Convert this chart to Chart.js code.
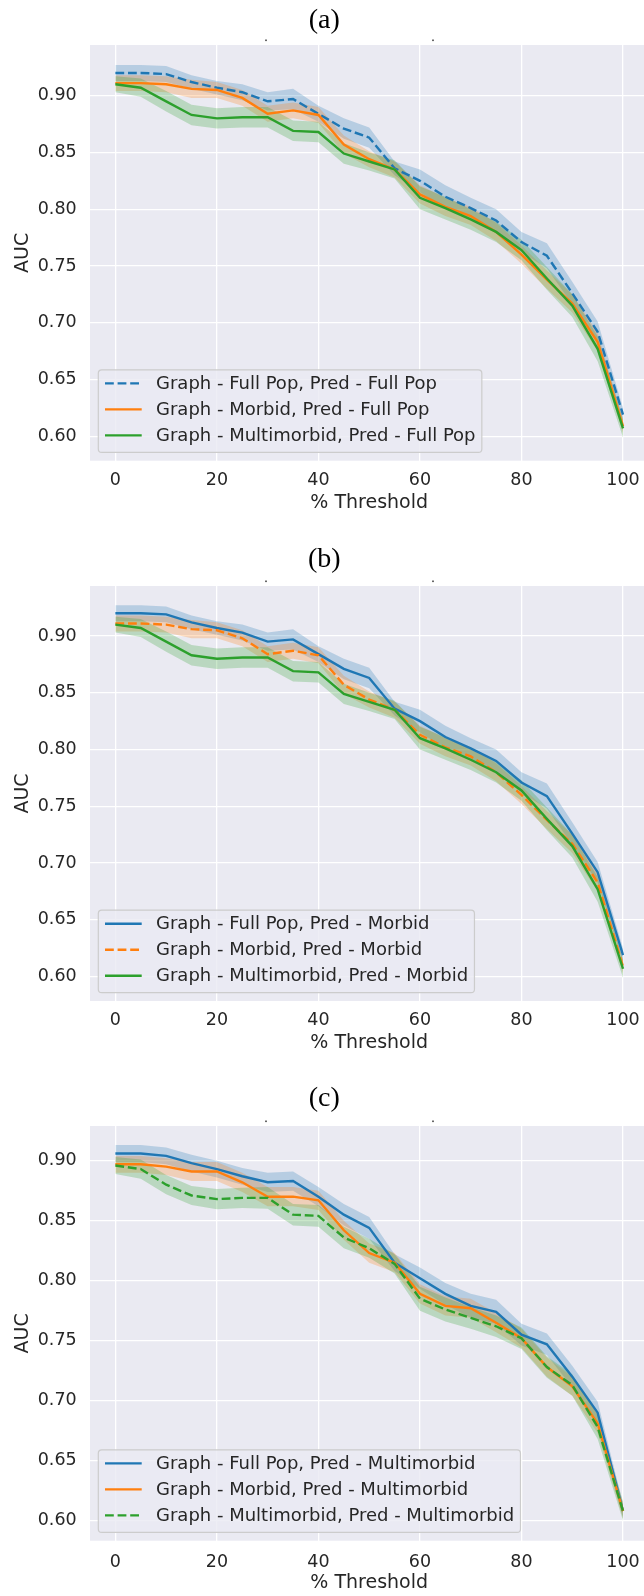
<!DOCTYPE html>
<html><head><meta charset="utf-8">
<script src="https://cdn.jsdelivr.net/npm/chart.js@4.4.1/dist/chart.umd.min.js"></script>
<style>
html,body{margin:0;padding:0;background:#fff;width:644px;height:1596px;overflow:hidden;position:relative}
canvas{position:absolute;left:0}
</style></head><body>
<canvas id="ca" width="660" height="525" style="top:0px"></canvas>
<canvas id="cb" width="660" height="525" style="top:530px"></canvas>
<canvas id="cc" width="660" height="536" style="top:1060px"></canvas>
<script>
// ---------- data ----------
const thresholds = [0,5,10,15,20,25,30,35,40,45,50,55,60,65,70,75,80,85,90,95,100];
const xTicks = [0,20,40,60,80,100];
const yTicks = [0.60,0.65,0.70,0.75,0.80,0.85,0.90];

// (a) prediction on full population
const aLabels = ['Graph - Full Pop, Pred - Full Pop','Graph - Morbid, Pred - Full Pop','Graph - Multimorbid, Pred - Full Pop'];
const aFullPop = [0.920,0.920,0.919,0.912,0.907,0.903,0.895,0.897,0.884,0.871,0.863,0.836,0.825,0.811,0.801,0.790,0.771,0.759,0.726,0.692,0.619];
const aMorbid  = [0.911,0.911,0.910,0.906,0.905,0.898,0.884,0.887,0.883,0.857,0.844,0.835,0.813,0.802,0.794,0.780,0.760,0.738,0.717,0.683,0.609];
const aMulti   = [0.910,0.907,0.895,0.883,0.880,0.881,0.881,0.869,0.868,0.849,0.842,0.835,0.810,0.801,0.791,0.780,0.764,0.739,0.715,0.677,0.607];
const aFullPopCI = [0.007,0.007,0.007,0.006,0.006,0.007,0.008,0.009,0.007,0.009,0.009,0.006,0.010,0.010,0.009,0.010,0.009,0.011,0.010,0.009,0.006];
const aMorbidCI  = [0.007,0.007,0.007,0.008,0.007,0.007,0.007,0.007,0.007,0.008,0.007,0.007,0.008,0.008,0.008,0.008,0.008,0.008,0.008,0.008,0.006];
const aMultiCI   = [0.007,0.008,0.009,0.009,0.009,0.009,0.009,0.009,0.009,0.009,0.008,0.008,0.010,0.010,0.009,0.009,0.009,0.010,0.010,0.011,0.008];

// (b) prediction on morbid population
const bLabels = ['Graph - Full Pop, Pred - Morbid','Graph - Morbid, Pred - Morbid','Graph - Multimorbid, Pred - Morbid'];
const bFullPop = [0.920,0.920,0.919,0.912,0.907,0.903,0.895,0.897,0.884,0.871,0.863,0.836,0.825,0.811,0.801,0.790,0.771,0.759,0.726,0.692,0.619];
const bMorbid  = [0.911,0.911,0.910,0.906,0.905,0.898,0.884,0.887,0.883,0.857,0.844,0.835,0.813,0.802,0.794,0.780,0.760,0.738,0.717,0.683,0.609];
const bMulti   = [0.910,0.907,0.895,0.883,0.880,0.881,0.881,0.869,0.868,0.849,0.842,0.835,0.810,0.801,0.791,0.780,0.764,0.739,0.715,0.677,0.607];
const bFullPopCI = [0.007,0.007,0.007,0.006,0.006,0.007,0.008,0.009,0.007,0.009,0.009,0.006,0.010,0.010,0.009,0.010,0.009,0.011,0.010,0.009,0.006];
const bMorbidCI  = [0.007,0.007,0.007,0.008,0.007,0.007,0.007,0.007,0.007,0.008,0.007,0.007,0.008,0.008,0.008,0.008,0.008,0.008,0.008,0.008,0.006];
const bMultiCI   = [0.007,0.008,0.009,0.009,0.009,0.009,0.009,0.009,0.009,0.009,0.008,0.008,0.010,0.010,0.009,0.009,0.009,0.010,0.010,0.011,0.008];

// (c) prediction on multimorbid population
const cLabels = ['Graph - Full Pop, Pred - Multimorbid','Graph - Morbid, Pred - Multimorbid','Graph - Multimorbid, Pred - Multimorbid'];
const cFullPop = [0.906,0.906,0.904,0.898,0.893,0.887,0.882,0.883,0.870,0.855,0.844,0.815,0.802,0.789,0.779,0.774,0.755,0.747,0.720,0.690,0.608];
const cMorbid  = [0.897,0.897,0.895,0.891,0.891,0.882,0.870,0.870,0.867,0.842,0.823,0.815,0.789,0.779,0.777,0.765,0.752,0.728,0.712,0.681,0.608];
const cMulti   = [0.896,0.893,0.880,0.871,0.868,0.869,0.869,0.855,0.854,0.836,0.827,0.814,0.785,0.776,0.769,0.762,0.752,0.728,0.713,0.678,0.608];
const cFullPopCI = [0.007,0.007,0.007,0.007,0.007,0.007,0.008,0.008,0.008,0.009,0.009,0.007,0.009,0.009,0.010,0.010,0.009,0.009,0.009,0.009,0.006];
const cMorbidCI  = [0.007,0.007,0.007,0.008,0.008,0.008,0.008,0.008,0.008,0.008,0.008,0.008,0.008,0.008,0.008,0.008,0.008,0.008,0.008,0.008,0.006];
const cMultiCI   = [0.007,0.008,0.008,0.008,0.0085,0.0085,0.009,0.009,0.009,0.009,0.008,0.008,0.010,0.010,0.009,0.009,0.009,0.009,0.009,0.010,0.008];

// ---------- style ----------
const COLORS = ['#1f77b4','#ff7f0e','#2ca02c'];
const BANDS = ['rgba(31,119,180,0.25)','rgba(255,127,14,0.25)','rgba(44,160,44,0.25)'];
const SANS = "'DejaVu Sans', sans-serif";
const TXT = '#262626';
const DASH = [8.8,3.8];

const bgPlugin = {
  id:'bg',
  beforeDraw(chart){
    const {ctx, chartArea:a} = chart;
    ctx.save(); ctx.fillStyle='#eaeaf2';
    ctx.fillRect(a.left, a.top, a.right-a.left, a.bottom-a.top);
    ctx.restore();
  }
};
const dotsPlugin = {
  id:'dots',
  afterDraw(chart){
    const {ctx, chartArea:a} = chart;
    ctx.save(); ctx.fillStyle='#444';
    [266,433].forEach(x=>ctx.fillRect(x-0.8, a.top-5.5, 1.6, 1.6));
    ctx.restore();
  }
};
const legendPlugin = {
  id:'boxLegend',
  afterDraw(chart){
    const {ctx, chartArea:a} = chart;
    const items = chart.data.datasets.filter(d=>d.inLegend);
    ctx.save();
    ctx.font = '18px ' + SANS;
    let maxW = 0;
    items.forEach(d=>{ maxW = Math.max(maxW, ctx.measureText(d.label).width); });
    const bx = a.left + 8.3, bBottom = a.bottom - 8.3, bh = 82.5, by = bBottom - bh;
    const textX = bx + 57.7;
    const bw = textX + maxW + 6.3 - bx;
    const r = 3.5;
    ctx.beginPath();
    ctx.moveTo(bx+r, by); ctx.lineTo(bx+bw-r, by); ctx.arcTo(bx+bw, by, bx+bw, by+r, r);
    ctx.lineTo(bx+bw, by+bh-r); ctx.arcTo(bx+bw, by+bh, bx+bw-r, by+bh, r);
    ctx.lineTo(bx+r, by+bh); ctx.arcTo(bx, by+bh, bx, by+bh-r, r);
    ctx.lineTo(bx, by+r); ctx.arcTo(bx, by, bx+r, by, r); ctx.closePath();
    ctx.fillStyle = 'rgba(234,234,242,0.8)'; ctx.fill();
    ctx.strokeStyle = '#cccccc'; ctx.lineWidth = 1.2; ctx.stroke();
    items.forEach((d,i)=>{
      const y = by + 13.5 + 26*i;
      ctx.beginPath(); ctx.setLineDash(d.borderDash || []);
      ctx.strokeStyle = d.borderColor; ctx.lineWidth = 2.4;
      ctx.moveTo(bx+6.7, y); ctx.lineTo(bx+43.4, y); ctx.stroke();
      ctx.setLineDash([]);
      ctx.fillStyle = TXT; ctx.textBaseline = 'middle'; ctx.textAlign='left';
      ctx.fillText(d.label, textX, y+1);
    });
    ctx.restore();
  }
};

function makeChart(id, p){
  const datasets = [];
  p.series.forEach((vals, i)=>{
    const ci = p.ci[i];
    datasets.push({label:'', data: thresholds.map((x,k)=>({x, y: vals[k]-ci[k]})), borderWidth:0, pointRadius:0, fill:false, order: 20+i});
    datasets.push({label:'', data: thresholds.map((x,k)=>({x, y: vals[k]+ci[k]})), borderWidth:0, pointRadius:0,
      fill:'-1', backgroundColor: BANDS[i], order: 5-i});
  });
  p.series.forEach((vals, i)=>{
    datasets.push({label: p.labels[i], inLegend:true, data: thresholds.map((x,k)=>({x, y: vals[k]})),
      borderColor: COLORS[i], borderWidth:2.4, borderDash: p.dashed===i ? DASH : [],
      pointRadius:0, fill:false, tension:0, order: 2-i});
  });
  return new Chart(document.getElementById(id), {
    type:'line',
    data:{datasets},
    options:{
      responsive:false, animation:false, events:[],
      layout:{padding:{left:0,right:11.6,top:0,bottom:0}},
      plugins:{
        legend:{display:false}, tooltip:{enabled:false},
        title:{display:true, text:p.title, color:'#000',
          font:{family:"'Liberation Serif', serif", size:28, weight:'normal'},
          padding:{top:p.titlePadT, bottom:p.titlePadB}}
      },
      scales:{
        x:{type:'linear', min:-5, max:105,
          afterBuildTicks: s=>{ s.ticks = xTicks.map(v=>({value:v})); },
          afterFit: s=>{ s.height = p.xAxisH; },
          grid:{color:'#ffffff', lineWidth:1.3, drawTicks:false},
          border:{display:false},
          ticks:{padding:p.xTickPad, color:TXT, font:{family:SANS, size:17.5}, callback:v=>String(v), maxRotation:0},
          title:{display:true, text:'% Threshold', color:TXT, font:{family:SANS, size:19}, padding:{top:0,bottom:p.xTitlePadB}}
        },
        y:{type:'linear', min:p.ymin, max:p.ymax,
          afterBuildTicks: s=>{ s.ticks = yTicks.map(v=>({value:v})); },
          afterFit: s=>{ s.width = 90; },
          grid:{color:'#ffffff', lineWidth:1.3, drawTicks:false},
          border:{display:false},
          ticks:{padding:13.3, color:TXT, font:{family:SANS, size:17.5}, callback:v=>v.toFixed(2)},
          title:{display:true, text:'AUC', color:TXT, font:{family:SANS, size:19}, padding:{top:11.6,bottom:0}}
        }
      }
    },
    plugins:[bgPlugin, legendPlugin, dotsPlugin]
  });
}

makeChart('ca', {title:'(a)', labels:aLabels, series:[aFullPop,aMorbid,aMulti], ci:[aFullPopCI,aMorbidCI,aMultiCI], dashed:0,
  ymin:0.5785, ymax:0.9446, titlePadT:4.2, titlePadB:7.2, xAxisH:64.3, xTickPad:8.8, xTitlePadB:10.6});
makeChart('cb', {title:'(b)', labels:bLabels, series:[bFullPop,bMorbid,bMulti], ci:[bFullPopCI,bMorbidCI,bMultiCI], dashed:1,
  ymin:0.5786, ymax:0.944, titlePadT:13.2, titlePadB:9.2, xAxisH:54, xTickPad:9.2, xTitlePadB:0.3});
makeChart('cc', {title:'(c)', labels:cLabels, series:[cFullPop,cMorbid,cMulti], ci:[cFullPopCI,cMorbidCI,cMultiCI], dashed:2,
  ymin:0.5833, ymax:0.9289, titlePadT:22.2, titlePadB:10.2, xAxisH:55.3, xTickPad:10.8, xTitlePadB:1.1});
</script>
</body></html>
